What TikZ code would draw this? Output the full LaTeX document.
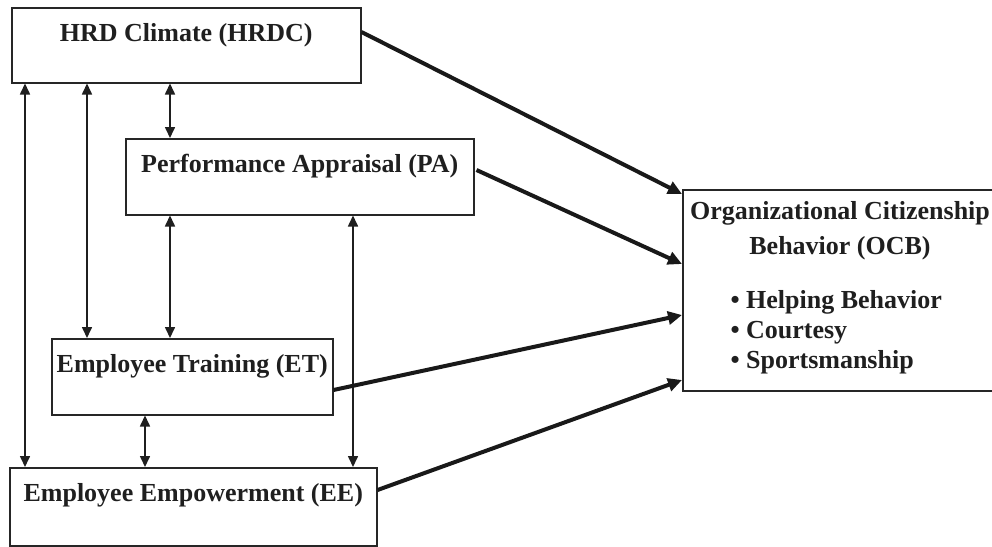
\documentclass[tikz,border=0pt]{standalone}
\usepackage{fontspec}
\setmainfont{Liberation Serif}
\usetikzlibrary{arrows.meta,calc}
\begin{document}
\begin{tikzpicture}[x=1pt,y=-1pt,
  every node/.style={font=\fontsize{26}{30}\selectfont\bfseries,text=black!88},
  box/.style={draw=black!85,line width=1.5pt,inner sep=0pt,anchor=north west,align=center},
  thin/.style={draw=black!88,line width=1.6pt,{Triangle[length=11pt,width=10pt]}-{Triangle[length=11pt,width=10pt]}},
  thick/.style={draw=black!90,line width=4pt,-{Triangle[length=14pt,width=13pt]}}]
\useasboundingbox (0,0) rectangle (992,546);
\node[box,minimum width=349pt,text height=33.5pt,text depth=41.5pt] (hrdc) at (11,7) {HRD Climate (HRDC)};
\node[box,minimum width=348pt,text height=33.5pt,text depth=42.5pt] (pa) at (125,138) {Performance Appraisal (PA)};
\node[box,minimum width=281pt,text height=33.5pt,text depth=42.5pt] (et) at (51,338) {Employee Training (ET)};
\node[box,minimum width=367pt,text height=33.5pt,text depth=44.5pt] (ee) at (9,467) {Employee Empowerment (EE)};
\node[box,minimum width=313pt,minimum height=201pt] (ocb) at (682,189) {};
\node (ocbt) at (840,231) [align=center] {Organizational Citizenship\\[5pt]Behavior (OCB)};
\node (ocbl) at (727,332) [anchor=west,align=left] {\textbullet\ Helping Behavior\\\textbullet\ Courtesy\\\textbullet\ Sportsmanship};
\coordinate (xa) at (25,0);
\coordinate (xb) at (87,0);
\coordinate (xc) at (170,0);
\coordinate (xd) at (353,0);
\coordinate (xe) at (145,0);
\draw[thin] (hrdc.south -| xa) -- (ee.north -| xa);
\draw[thin] (hrdc.south -| xb) -- (et.north -| xb);
\draw[thin] (hrdc.south -| xc) -- (pa.north -| xc);
\draw[thin] (pa.south -| xc) -- (et.north -| xc);
\draw[thin] (pa.south -| xd) -- (ee.north -| xd);
\draw[thin] (et.south -| xe) -- (ee.north -| xe);
\draw[thick] ($(hrdc.north east)+(0,25)$) -- ($(ocb.north west)+(0,5)$);
\draw[thick] ($(pa.north east)+(2,32)$) -- ($(ocb.north west)+(0,75)$);
\draw[thick] ($(et.north east)+(0,52)$) -- ($(ocb.north west)+(0,126)$);
\draw[thick] ($(ee.north east)+(0,23)$) -- ($(ocb.north west)+(0,191)$);
\end{tikzpicture}
\end{document}
